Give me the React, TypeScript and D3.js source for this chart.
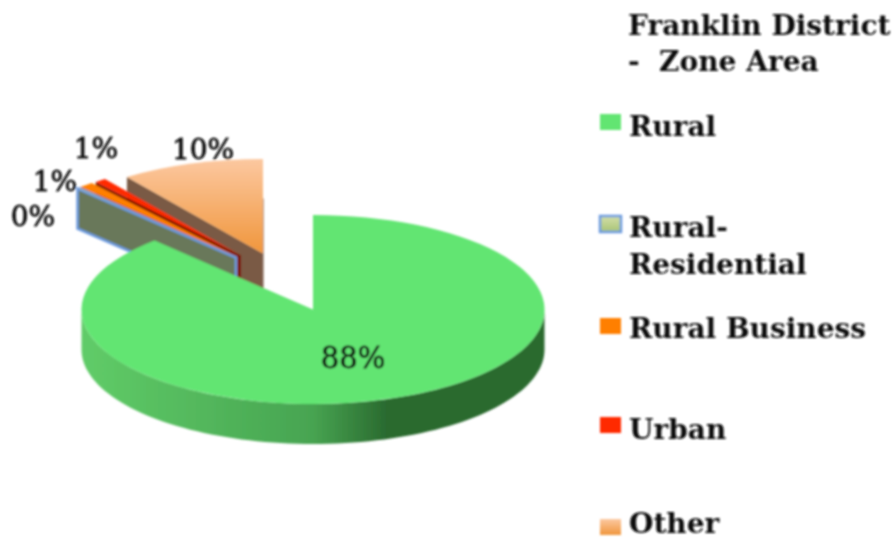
import React from 'react'
import * as d3 from 'd3'

const categories = ['Rural', 'Rural-Residential', 'Rural Business', 'Urban', 'Other']
const shares = [88, 0.2, 1, 0.8, 10]

const titleLines = ['Franklin District', '-  Zone Area']
const legendLines = [['Rural'], ['Rural-', 'Residential'], ['Rural Business'], ['Urban'], ['Other']]

const topFills = ['#62e572', 'url(#ruralResTop)', '#ff7f00', '#ff2a00', 'url(#otherTop)']
const wallFills = ['none', '#69785a', '#a85a00', '#7a1000', '#7a5a44']
const legendFills = ['#62e572', 'url(#ruralResLegend)', '#ff7f00', '#ff2a00', 'url(#otherLegend)']

// how far each slice is pulled out of the pie
const explodeX = [0, -77, -76, -72, -50]
const explodeY = [0, -52, -53, -54, -56]

const labelX = [353, 33, 55, 96, 203]
const labelY = [368, 226, 191, 158, 159]
const legendY = [122, 224, 326, 425, 527]
const legendTextY = [136, 237, 338, 439, 533]

const cx = 313
const cy = 309.5
const rx = 231.5
const ry = 94.5
const depth = 40
const font = '"DejaVu Serif", serif'

const slices = d3.pie<number>().sort(null)(shares)
const arc = d3.arc<d3.PieArcDatum<number>>().innerRadius(0).outerRadius(rx)
const percent = d3.format('.0%')
const line = d3.line()

const rim = (angle: number, x: number, y: number): [number, number] => [
  x + rx * Math.sin(angle),
  y - ry * Math.cos(angle)
]

const sidePath = () => {
  const angles = d3.range(Math.PI / 2, (3 * Math.PI) / 2 + 0.01, Math.PI / 90)
  const top = angles.map((a) => rim(a, cx, cy))
  const bottom = angles.map((a) => rim(a, cx, cy + depth)).reverse()
  return line([...top, ...bottom]) + 'Z'
}

export default function App () {
  // back to front, so the big slice goes last and covers the rest
  const order = [4, 3, 2, 1, 0]

  return (
    <svg width={894} height={540} style={{ position: 'absolute', left: 0, top: 0, background: '#fff' }}>
      <defs>
        <linearGradient id='ruralSide' x1='0' x2='1' y1='0' y2='0'>
          <stop offset='0' stopColor='#60cc68' />
          <stop offset='0.5' stopColor='#47a451' />
          <stop offset='0.66' stopColor='#2a6a2f' />
          <stop offset='1' stopColor='#2a6a2f' />
        </linearGradient>
        <linearGradient id='otherTop' x1='0' x2='0' y1='0' y2='1'>
          <stop offset='0' stopColor='#fcc8a0' />
          <stop offset='1' stopColor='#f0963c' />
        </linearGradient>
        <linearGradient id='ruralResTop' x1='0' x2='0' y1='0' y2='1'>
          <stop offset='0' stopColor='#cfdca0' />
          <stop offset='1' stopColor='#a9c476' />
        </linearGradient>
        <linearGradient id='ruralResLegend' x1='0' x2='0' y1='0' y2='1'>
          <stop offset='0' stopColor='#d3dfa8' />
          <stop offset='1' stopColor='#a9c476' />
        </linearGradient>
        <linearGradient id='otherLegend' x1='0' x2='0' y1='0' y2='1'>
          <stop offset='0' stopColor='#fcc8a0' />
          <stop offset='1' stopColor='#f0963c' />
        </linearGradient>
        <filter id='soft' x='-5%' y='-5%' width='110%' height='110%'>
          <feGaussianBlur stdDeviation='0.8' />
        </filter>
      </defs>

      <g filter='url(#soft)'>
        {order.map((i) => {
          const s = slices[i]
          const x = cx + explodeX[i]
          const y = cy + explodeY[i]
          const blue = i === 1
          const outer = rim(s.startAngle, x, y)
          const wall = line([
            outer,
            [x, y],
            [x, y + depth],
            [outer[0], outer[1] + depth]
          ]) + 'Z'
          return (
            <g key={categories[i]}>
              {i === 4 && <path d={line([[x, y - 55], [x, y + depth]]) ?? ''} stroke='#b5a294' strokeWidth={2} fill='none' />}
              {i === 0
                ? <path d={sidePath()} fill='url(#ruralSide)' />
                : <path d={wall} fill={wallFills[i]} stroke={blue ? '#6d9be0' : 'none'} strokeWidth={blue ? 2.5 : 0} />}
              <path
                d={arc(s) ?? ''}
                transform={`translate(${x},${y}) scale(1,${ry / rx})`}
                fill={topFills[i]}
                stroke={blue ? '#6d9be0' : 'none'}
                strokeWidth={blue ? 2 : 0}
              />
            </g>
          )
        })}

        {slices.map((s, i) => (
          <text
            key={i}
            x={labelX[i]}
            y={labelY[i]}
            textAnchor='middle'
            fontFamily={font}
            fontSize={i === 0 ? 29 : 28}
            fill='#111'
            stroke='#111'
            strokeWidth={0.8}
          >
            {percent(s.value / 100)}
          </text>
        ))}

        {titleLines.map((t, i) => (
          <text key={t} x={628} y={35 + i * 36} fontFamily={font} fontWeight='bold' fontSize={28} fill='#111' xmlSpace='preserve'>
            {t}
          </text>
        ))}

        {categories.map((c, i) => (
          <g key={c}>
            <rect
              x={600}
              y={legendY[i] - 8}
              width={21}
              height={16}
              fill={legendFills[i]}
              stroke={i === 1 ? '#6d9be0' : 'none'}
              strokeWidth={i === 1 ? 2.5 : 0}
            />
            {legendLines[i].map((t, j) => (
              <text key={t} x={629} y={legendTextY[i] + j * 37} fontFamily={font} fontWeight='bold' fontSize={28} fill='#111'>
                {t}
              </text>
            ))}
          </g>
        ))}
      </g>
    </svg>
  )
}
